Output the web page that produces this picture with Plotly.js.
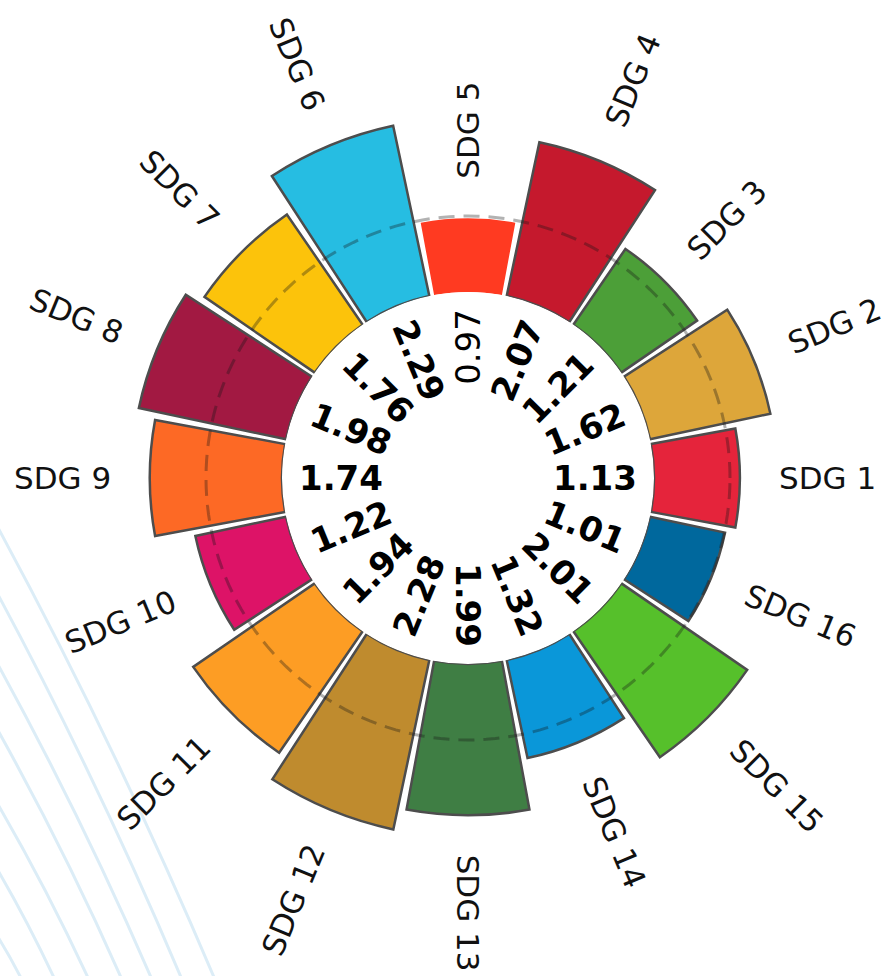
<!DOCTYPE html>
<html>
<head>
<meta charset="utf-8">
<script src="https://cdn.plot.ly/plotly-3.0.1.min.js"></script>
<style>html,body{margin:0;padding:0;background:#fff;}#chart{width:885px;height:976px;}</style>
</head>
<body>
<div id="chart"></div>
<script>
// ---- data ----
const categories = ['SDG 1','SDG 2','SDG 3','SDG 4','SDG 5','SDG 6','SDG 7','SDG 8',
                    'SDG 9','SDG 10','SDG 11','SDG 12','SDG 13','SDG 14','SDG 15','SDG 16'];
const values = [1.13, 1.62, 1.21, 2.07, 0.97, 2.29, 1.76, 1.98,
                1.74, 1.22, 1.94, 2.28, 1.99, 1.32, 2.01, 1.01];
const valueLabels = ['1.13','1.62','1.21','2.07','0.97','2.29','1.76','1.98',
                     '1.74','1.22','1.94','2.28','1.99','1.32','2.01','1.01'];
const colors = ['#E5243B','#DDA63A','#4C9F38','#C5192D','#FF3A21','#26BDE2','#FCC30B','#A21942',
                '#FD6925','#DD1367','#FD9D24','#BF8B2E','#3F7E44','#0A97D9','#56C02B','#00689D'];
const threshold = 1;

// ---- geometry / style ----
const W = 885, H = 976;
const CX = 468, CY = 478, R = 376, HOLE_PX = 186;
const RMAX = 2.5;
const UNIT = (R - HOLE_PX) / RMAX;
const step = 360 / categories.length;
const thetas = categories.map((c, i) => i * step);

const xdom = [(CX - R) / W, (CX + R) / W];
const ydom = [1 - (CY + R) / H, 1 - (CY - R) / H];

function toPaper(rpx, deg) {
  const a = deg * Math.PI / 180;
  return { x: (CX + rpx * Math.cos(a)) / W, y: 1 - (CY - rpx * Math.sin(a)) / H };
}
function textAngle(deg) {
  let t = ((deg % 360) + 360) % 360;
  if (t > 90 && t < 270) return 180 - t;
  return t <= 90 ? -t : 360 - t;
}

const bars = {
  type: 'barpolar',
  r: values,
  theta: thetas,
  width: categories.map(() => step - 1.5),
  marker: {
    color: colors,
    line: { color: '#4d4d4d', width: values.map(v => v < threshold ? 0 : 2.5) }
  },
  hoverinfo: 'skip',
  showlegend: false
};

const ringTheta = [];
for (let t = 0; t <= 360; t += 2) ringTheta.push(t);
const ring = {
  type: 'scatterpolar',
  mode: 'lines',
  r: ringTheta.map(() => threshold),
  theta: ringTheta,
  line: { color: 'rgba(20,20,20,0.33)', width: 3, dash: '16px,9px' },
  hoverinfo: 'skip',
  showlegend: false
};

const annotations = [];
const LABEL_FS = 31, VALUE_FS = 34, GAP = 39;
categories.forEach((c, i) => {
  const th = thetas[i];
  const nd = c.length - 4;
  const len = (2.498 + 0.636 * nd) * LABEL_FS;
  const rEnd = HOLE_PX + values[i] * UNIT;
  const p = toPaper(rEnd + GAP + len / 2, th);
  annotations.push({
    xref: 'paper', yref: 'paper', x: p.x, y: p.y,
    xanchor: 'center', yanchor: 'middle', showarrow: false,
    text: c, textangle: textAngle(th),
    font: { family: 'DejaVu Sans', size: LABEL_FS, color: '#111' }
  });
  const bold = values[i] >= threshold;
  const vlen = bold ? 2.468 * VALUE_FS : 2.226 * VALUE_FS;
  const q = toPaper(169 - vlen / 2, th);
  annotations.push({
    xref: 'paper', yref: 'paper', x: q.x, y: q.y,
    xanchor: 'center', yanchor: 'middle', showarrow: false,
    text: bold ? '<b>' + valueLabels[i] + '</b>' : valueLabels[i],
    textangle: textAngle(th),
    font: { family: 'DejaVu Sans', size: VALUE_FS, color: '#000' }
  });
});

// decorative background strokes (bottom-left)
const deco = [[530,213],[597,180],[667,150],[733,120],[807,87],[873,53],[940,20]];
const shapes = deco.map(([ys, xb]) => {
  const x0 = -4, y0 = ys - 6, x2 = xb + 3, y2 = H + 6;
  const dx = x2 - x0, dy = y2 - y0, L = Math.hypot(dx, dy);
  const px = dy / L, py = -dx / L, b = 0.012 * L;
  const cx = (x0 + x2) / 2 + 2 * b * px, cy = (y0 + y2) / 2 + 2 * b * py;
  const f = (x, y) => (x / W).toFixed(5) + ',' + (1 - y / H).toFixed(5);
  return {
    type: 'path', xref: 'paper', yref: 'paper', layer: 'below',
    path: 'M' + f(x0, y0) + ' Q' + f(cx, cy) + ' ' + f(x2, y2),
    line: { color: '#dcedf7', width: 3 }
  };
});

const layout = {
  width: W, height: H,
  margin: { l: 0, r: 0, t: 0, b: 0 },
  paper_bgcolor: '#ffffff',
  plot_bgcolor: '#ffffff',
  showlegend: false,
  polar: {
    domain: { x: xdom, y: ydom },
    hole: HOLE_PX / R,
    bgcolor: 'rgba(0,0,0,0)',
    bargap: 0,
    radialaxis: { visible: false, range: [0, RMAX], showgrid: false, showline: false },
    angularaxis: { visible: false, rotation: 0, direction: 'counterclockwise',
                   showgrid: false, showline: false, thetaunit: 'degrees' }
  },
  annotations: annotations,
  shapes: shapes
};

Plotly.newPlot('chart', [bars, ring], layout, { displayModeBar: false, staticPlot: true });
</script>
</body>
</html>
